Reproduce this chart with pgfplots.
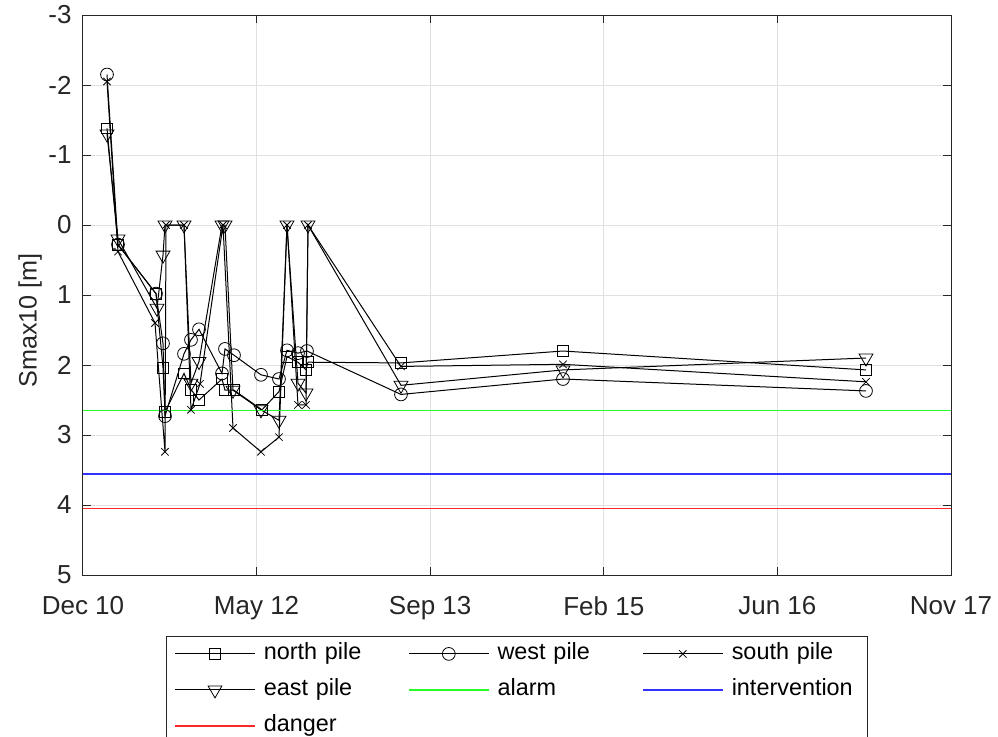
\documentclass[border=0pt]{standalone}
\usepackage{fontspec}
\setmainfont{Liberation Sans}
\usepackage{pgfplots}
\pgfplotsset{compat=1.18}
\definecolor{axgray}{RGB}{38,38,38}
\definecolor{gridgray}{RGB}{225,225,225}
\definecolor{mgreen}{RGB}{40,255,40}
\definecolor{mblue}{RGB}{50,50,255}
\definecolor{mred}{RGB}{255,40,40}
\begin{document}
\begin{tikzpicture}
\begin{axis}[
  at={(0,0)}, anchor=south west,
  scale only axis, width=434pt, height=280pt,
  xmin=0, xmax=868, ymin=-3, ymax=5, y dir=reverse,
  xtick={0,173.6,347.2,520.8,694.4,868},
  xticklabels={Dec 10,May 12,Sep 13,Feb 15,Jun 16,Nov 17},
  ytick={-3,-2,-1,0,1,2,3,4,5},
  /pgf/number format/assume math mode=true,
  tick align=inside, xtick pos=both, ytick pos=both,
  major tick length=4pt,
  grid=major, grid style={gridgray, line width=0.5pt},
  axis line style={axgray, line width=0.5pt},
  tick style={axgray, line width=0.5pt},
  ticklabel style={font=\fontsize{13}{15}\selectfont, text=axgray, inner sep=0pt},
  xticklabel style={yshift=-10.5pt},
  yticklabel style={xshift=-5.5pt},
  ylabel={Smax10 [m]},
  ylabel style={font=\fontsize{12.6}{15}\selectfont, text=axgray, at={(axis description cs:-0.061,0.455)}, anchor=center},
  title={Jacket F2},
  title style={font=\bfseries\fontsize{14.5}{17}\selectfont, at={(axis description cs:0.5,1)}, anchor=base, yshift=5.5pt, inner sep=0pt},
  legend columns=3,
  legend cell align=left,
  legend image code/.code={\draw[mark repeat=2,mark phase=2,#1] plot coordinates {(0pt,0pt) (20pt,0pt) (40pt,0pt)};},
  legend style={at={(axis description cs:0.5,0)}, anchor=north, yshift=-30.3pt,
    draw=axgray, line width=0.5pt, font=\fontsize{11.7}{14}\selectfont,
    inner xsep=3.9pt, inner ysep=3.5pt,
    nodes={text width=64pt, align=left, inner sep=0pt, text height=8.4pt, text depth=2.4pt},
    /tikz/every odd column/.style={column sep=4pt},
    /tikz/every even column/.style={column sep=8.1pt},
    row sep=7.2pt},
]
% north pile
\addplot[black, line width=0.5pt, mark=square, mark size=2.7pt, mark options={solid, line width=0.4pt, fill=none}] coordinates {
(24,-1.38) (35,0.28) (73,0.98) (80,2.04) (82,2.67) (101,2.12) (108,2.35) (116,2.50)
(139,2.20) (142,2.36) (151,2.36) (179,2.64) (196,2.38) (204,1.88) (215,1.96)
(223,2.07) (225,1.96) (318,1.97) (480,1.80) (783,2.07)};
\addlegendentry{north pile}
% west pile
\addplot[black, line width=0.5pt, mark=o, mark size=3.2pt, mark options={solid, line width=0.4pt, fill=none}] coordinates {
(24,-2.15) (35,0.28) (73,0.98) (80,1.69) (82,2.73) (101,1.84) (108,1.64) (116,1.49)
(139,2.12) (142,1.77) (151,1.86) (178,2.14) (196,2.20) (204,1.79) (215,1.83)
(224,1.80) (318,2.42) (480,2.20) (783,2.37)};
\addlegendentry{west pile}
% south pile
\addplot[black, line width=0.5pt, mark=x, mark size=2.6pt, mark options={solid, line width=0.4pt}] coordinates {
(24,-2.05) (35,0.38) (72,1.40) (82,3.24) (83,0) (101,0) (108,2.64) (117,2.27)
(140,0) (150,2.90) (178,3.24) (196,3.03) (204,0) (215,2.57) (223,2.57) (225,0)
(318,2.02) (480,1.99) (783,2.24)};
\addlegendentry{south pile}
% east pile
\addplot[black, line width=0.5pt, mark=triangle, mark size=4pt, mark options={solid, rotate=180, line width=0.4pt, fill=none}] coordinates {
(24,-1.30) (35,0.20) (74,1.19) (80,0.43) (82,0) (101,0) (108,2.26) (116,1.95)
(139,0) (142,0) (150,2.36) (178,2.64) (196,2.79) (204,0) (215,2.26) (223,2.40)
(225,0) (318,2.29) (480,2.07) (783,1.90)};
\addlegendentry{east pile}
\addplot[draw=mgreen, line width=0.8pt] coordinates {(0,2.65) (868,2.65)};
\addlegendentry{alarm}
\addplot[draw=mblue, line width=1pt] coordinates {(0,3.55) (868,3.55)};
\addlegendentry{intervention}
\addplot[draw=mred, line width=0.8pt] coordinates {(0,4.05) (868,4.05)};
\addlegendentry{danger}
\end{axis}
\pgfresetboundingbox
\path[use as bounding box] (-41.5pt,-80.5pt) rectangle (457.5pt,287.5pt);
\end{tikzpicture}
\end{document}
